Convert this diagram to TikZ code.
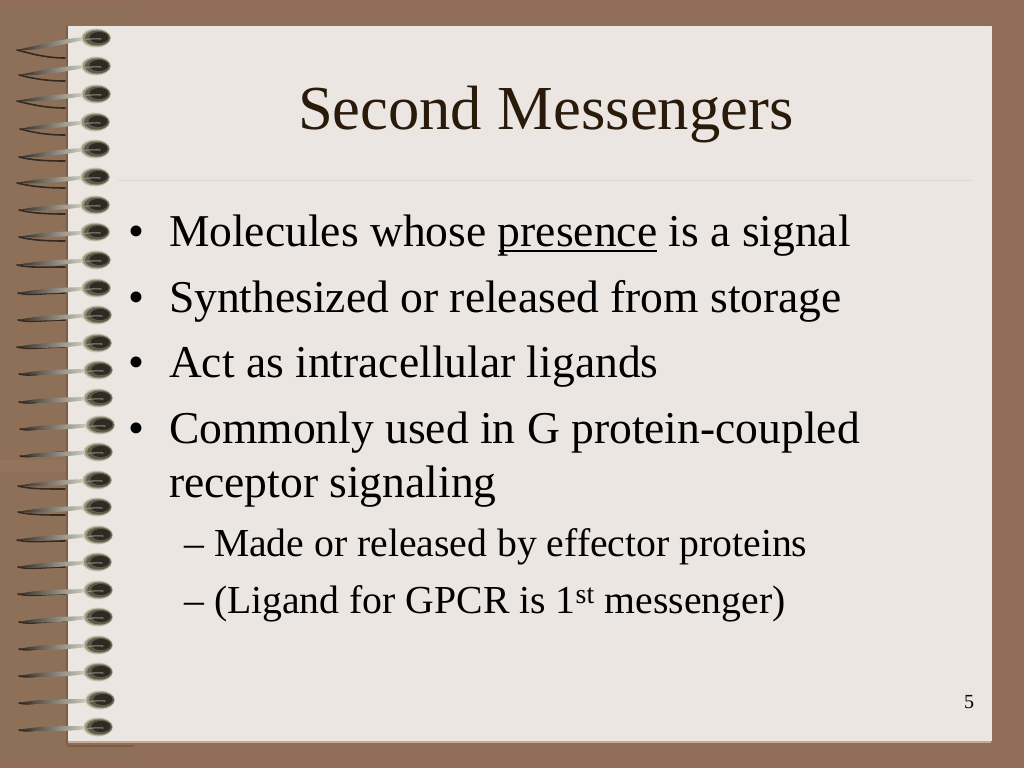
\documentclass[tikz,border=0pt]{standalone}
\usepackage{fontspec}
\setmainfont{Liberation Serif}
\definecolor{frame}{HTML}{8F6D58}
\definecolor{frameleft}{HTML}{93735C}
\definecolor{patchtop}{HTML}{8E7059}
\definecolor{sheet}{HTML}{EBE6E2}
\definecolor{edgeleft}{HTML}{7E5C4A}
\definecolor{edgelow}{HTML}{C8AA9A}
\definecolor{edgeright}{HTML}{F1E5DF}
\definecolor{rulepale}{HTML}{DDD9CB}
\definecolor{titleink}{HTML}{2A1A0A}
\definecolor{wiredark}{HTML}{332A22}
\definecolor{wiremid}{HTML}{77746A}
\definecolor{wirelight}{HTML}{D8D8CC}
\definecolor{blobhalo}{HTML}{CDCAB4}
\definecolor{blobouter}{HTML}{98957F}
\definecolor{blobmid}{HTML}{5E5A4C}
\definecolor{blobcore}{HTML}{2E2A24}
\definecolor{blobstreak}{HTML}{8F8C78}
\tikzset{
  bodytext/.style={anchor=base west,inner sep=0pt,outer sep=0pt,font=\fontsize{45.55}{54}\selectfont,text=black},
  subtext/.style={anchor=base west,inner sep=0pt,outer sep=0pt,font=\fontsize{39.7}{47}\selectfont,text=black},
  titletext/.style={anchor=base west,inner sep=0pt,outer sep=0pt,font=\fontsize{62.6}{70}\selectfont,text=titleink},
  pagenum/.style={anchor=base west,inner sep=0pt,outer sep=0pt,font=\fontsize{20}{24}\selectfont,text=black},
  backwire/.style={draw=wiredark,line width=1.6pt,line cap=round},
  streak/.style={draw=blobstreak,line width=1.1pt,line cap=round}
}
\begin{document}
\begin{tikzpicture}[x=1pt,y=-1pt]
\useasboundingbox (0,0) rectangle (1024,768);
\fill[frame] (0,0) rectangle (1024,768);
\fill[patchtop] (0,8) rectangle (133,26);
\fill[patchtop] (0,26) rectangle (66,460);
\fill[frameleft] (0,460) rectangle (66,472);
\fill[patchtop] (0,472) rectangle (66,762);
\fill[patchtop] (66,747) rectangle (134,762);
\fill[edgeleft] (66,26) rectangle (68,745);
\fill[edgeleft] (68,745) rectangle (134,747);
\fill[edgelow] (68,741) rectangle (991,743);
\fill[edgeright] (991,26) rectangle (992,741);
\fill[sheet] (68,26) rectangle (991,741);
\draw[rulepale,line width=1pt] (118,180) -- (972,180);
\foreach \hx/\hy/\tx/\ty/\by in {
 96/38/17/50/58, 96/66/19/75/81, 96/94/17/101/108, 95/122/20/129/135,
 95/149/19/157/161, 95/177/17/183/188, 95/205/19/210/214, 95/232/19/237/241,
 96/260/17/265/267, 96/288/18/293/293, 97/315/18/320/320, 97/343/17/347/347,
 98/370/19/374/372.5, 98/398/19/402/400, 100/425/20/429/426, 98/452/20/456/452,
 97/480/18/486/489, 97/507/18/512/515, 98/535/17/540/541, 97/562/18/567/567,
 98/590/18/594/594, 98/617/19/622/621, 98/645/19/649/646, 98/672/19/676/673.5,
 100/700/19/703/700, 98/727/19/730/727}{
  \draw[backwire] (\tx,\ty) .. controls (\tx+12,\ty+3) and (45,\by) .. (65,\by);
  \shade[left color=wiredark,middle color=wiremid,right color=wirelight]
    (\hx-8,\hy-1) .. controls (\hx-30,\hy-0.5) and (\tx+22,\ty-5) .. (\tx,\ty)
    .. controls (\tx+22,\ty+1.5) and (\hx-30,\hy+5) .. (\hx-8,\hy+1.5) -- cycle;
  \fill[blobhalo] (\hx,\hy) ellipse [x radius=15pt,y radius=9.5pt];
  \fill[blobouter] (\hx+0.5,\hy) ellipse [x radius=14pt,y radius=8.5pt];
  \fill[blobmid] (\hx+1.5,\hy) ellipse [x radius=12.5pt,y radius=7.5pt];
  \fill[blobcore] (\hx+3,\hy-0.5) ellipse [x radius=9.5pt,y radius=5.5pt];
  \draw[streak] (\hx-11,\hy+1.5) .. controls (\hx-5,\hy+1) and (\hx,\hy+0.5) .. (\hx+5,\hy+1);
}
\node[titletext] (title) at (298,129) {Second Messengers};
\node[bodytext] (b1dot) at (128,246) {•};
\node[bodytext] (b1) at (169,246) {Molecules whose presence is a signal};
\node[bodytext] (b2dot) at (128,312) {•};
\node[bodytext] (b2) at (169,312) {Synthesized or released from storage};
\node[bodytext] (b3dot) at (128,377) {•};
\node[bodytext] (b3) at (169,377) {Act as intracellular ligands};
\node[bodytext] (b4dot) at (128,443) {•};
\node[bodytext] (b4) at (169,443) {Commonly used in G protein-coupled};
\node[bodytext] (b4b) at (169,497) {receptor signaling};
\node[subtext] (s1dash) at (184,556) {–};
\node[subtext] (s1) at (214,556) {Made or released by effector proteins};
\node[subtext] (s2dash) at (184,613) {–};
\node[subtext] (s2) at (214,613) {(Ligand for GPCR is 1\textsuperscript{st} messenger)};
\node[pagenum] (num) at (964,708) {5};
\draw[black,line width=2.6pt] (499,251) -- (657,251);
\end{tikzpicture}
\end{document}
